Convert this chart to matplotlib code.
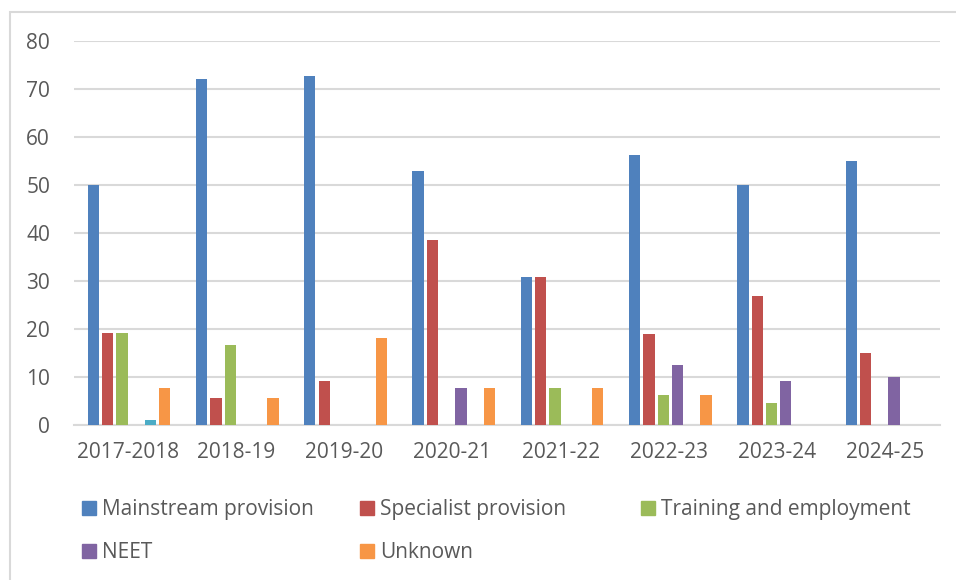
import numpy as np
import matplotlib
matplotlib.use("Agg")
import matplotlib.pyplot as plt
from matplotlib.patches import Patch, Rectangle

years = ["2017-2018", "2018-19", "2019-20", "2020-21", "2021-22", "2022-23", "2023-24", "2024-25"]
mainstream = [50.0, 72.1, 72.7, 53.0, 30.8, 56.3, 50.0, 55.0]
specialist = [19.2, 5.6, 9.1, 38.5, 30.8, 18.9, 27.0, 15.1]
training = [19.2, 16.7, 0, 0, 7.7, 6.3, 4.6, 0]
neet = [0, 0, 0, 7.7, 0, 12.5, 9.1, 10.0]
other = [1.0, 0, 0, 0, 0, 0, 0, 0]
unknown = [7.7, 5.6, 18.2, 7.7, 7.7, 6.3, 0, 0]

series = [
    ("Mainstream provision", mainstream, "#4f81bd"),
    ("Specialist provision", specialist, "#c0504d"),
    ("Training and employment", training, "#9bbb59"),
    ("NEET", neet, "#8064a2"),
    (None, other, "#4bacc6"),
    ("Unknown", unknown, "#f79646"),
]

plt.rcParams['font.family'] = ['Open Sans', 'DejaVu Sans']
text_col = "#595959"
grid_col = "#d9d9d9"

fig = plt.figure(figsize=(9.56, 5.8), dpi=100)
ax = fig.add_axes([0.077, 0.267, 0.906, 0.662])

x = np.arange(len(years))
pitch = 0.132
width = 0.104
for k, (name, vals, col) in enumerate(series):
    ax.bar(x + (k - 2.5) * pitch + 0.012, vals, width, color=col, zorder=3)

ax.set_xlim(-0.5, len(years) - 0.5)
ax.set_ylim(0, 80)
ax.set_yticks(range(0, 81, 10))
ax.set_xticks(x)
ax.set_xticklabels(years)
ax.yaxis.grid(True, color=grid_col, linewidth=1.5, zorder=0)
for s in ["top", "right", "left"]:
    ax.spines[s].set_visible(False)
ax.spines["bottom"].set_color(grid_col)
ax.spines["bottom"].set_linewidth(1.5)
ax.tick_params(axis="both", length=0, labelsize=15, colors=text_col)
ax.tick_params(axis="y", pad=17)
ax.tick_params(axis="x", pad=12)

# legend: three equal-width columns like Excel
cols = [[0, 3], [1, 5], [2]]
col_x = [82, 360, 641]
for xs, idx in zip(col_x, cols):
    handles = [Patch(color=series[i][2], label=series[i][0]) for i in idx]
    fig.legend(handles=handles, loc="upper left",
               bbox_to_anchor=(xs / 956, 1 - 499 / 580),
               frameon=False, fontsize=15, labelcolor=text_col,
               handlelength=0.68, handleheight=0.68, handletextpad=0.3,
               labelspacing=1.08, borderpad=0, borderaxespad=0)

# chart border
fig.patches.append(Rectangle((10 / 956, -0.05), 1.1, 1 - 12 / 580 + 0.05,
                             transform=fig.transFigure, fill=False,
                             edgecolor=grid_col, linewidth=1.5))

fig.savefig("out.png", dpi=100)
